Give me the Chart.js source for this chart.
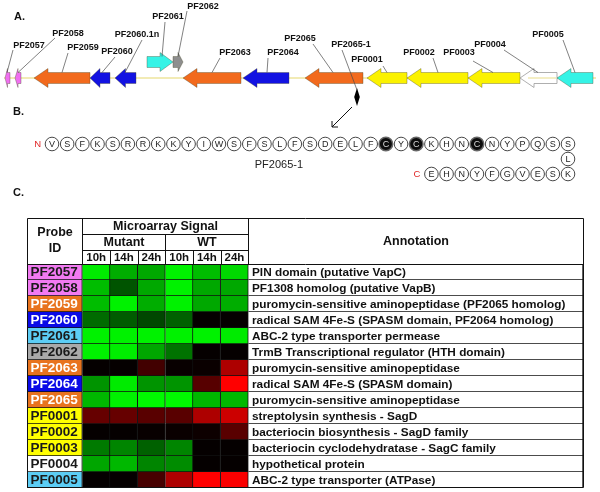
<!DOCTYPE html>
<html>
<head>
<meta charset="utf-8">
<script src="https://cdn.jsdelivr.net/npm/chart.js"></script>
<style>
  html, body { margin: 0; padding: 0; background: #fff; }
  #page { position: relative; width: 600px; height: 492px; overflow: hidden; }
  .panel { position: absolute; left: 0; width: 600px; }
  #panelA { top: 0; height: 135px; }
  #panelB { top: 100px; height: 90px; }
  #panelC { top: 185px; height: 307px; }
</style>
</head>
<body>
<div id="page">
  <div class="panel" id="panelA"><canvas id="geneMap"></canvas></div>
  <div class="panel" id="panelB"><canvas id="peptide"></canvas></div>
  <div class="panel" id="panelC"><canvas id="heatTable"></canvas></div>
</div>
<script>
// ---- A. gene neighbourhood (kb along the contig, strand -1 = leftward)
const geneNames  = ["PF2057", "PF2058", "PF2059", "PF2060", "PF2060.1n", "PF2061", "PF2062", "PF2063",
                    "PF2064", "PF2065", "PF0001", "PF0002", "PF0003", "PF0004", "PF0005"];
const geneStart  = [0.25, 0.75, 1.70, 4.50, 5.75, 7.35, 8.65, 9.15, 12.15, 15.25, 18.35, 20.35, 23.40, 26.00, 27.85];
const geneEnd    = [0.50, 1.05, 4.50, 5.50, 6.80, 8.65, 9.15, 12.05, 14.45, 18.15, 20.35, 23.40, 26.00, 27.85, 29.65];
const geneStrand = [-1, -1, -1, -1, -1, 1, 1, -1, -1, -1, -1, -1, -1, -1, -1];
const geneFamily = ["vap", "vap", "amino", "sam", "sam", "abc", "trmb", "amino", "sam", "amino", "sag", "sag", "sag", "hyp", "abc"];
const smallOrfName = "PF2065-1";
const smallOrfAt = 17.85;

// ---- B. PF2065-1 peptide
const peptideSeq = "VSFKSRRKKYIWSFSLFSDELFCYCKHNCNYPQSSLKSEVGFYNHE";
const modifiedResidues = [23, 25, 29];

// ---- C. microarray signal (negative = green, positive = red)
const probeIds = ["PF2057", "PF2058", "PF2059", "PF2060", "PF2061", "PF2062", "PF2063",
                  "PF2064", "PF2065", "PF0001", "PF0002", "PF0003", "PF0004", "PF0005"];
const annotations = [
  "PIN domain (putative VapC)",
  "PF1308 homolog (putative VapB)",
  "puromycin-sensitive aminopeptidase (PF2065 homolog)",
  "radical SAM 4Fe-S (SPASM domain, PF2064 homolog)",
  "ABC-2 type transporter permease",
  "TrmB Transcriptional regulator (HTH domain)",
  "puromycin-sensitive aminopeptidase",
  "radical SAM 4Fe-S (SPASM domain)",
  "puromycin-sensitive aminopeptidase",
  "streptolysin synthesis - SagD",
  "bacteriocin biosynthesis - SagD family",
  "bacteriocin cyclodehydratase - SagC family",
  "hypothetical protein",
  "ABC-2 type transporter (ATPase)"
];
const strains = ["Mutant", "WT"];
const timePoints = ["10h", "14h", "24h"];
const mutant10h = [-0.92, -0.74, -0.74, -0.42, -0.95, -0.95, 0.02, -0.58, -0.72, 0.40, 0.02, -0.48, -0.65, 0.02];
const mutant14h = [-0.68, -0.33, -0.95, -0.36, -0.95, -0.93, 0.02, -0.92, -0.95, 0.40, 0.02, -0.52, -0.72, 0.02];
const mutant24h = [-0.66, -0.66, -0.68, -0.28, -0.95, -0.65, 0.26, -0.58, -0.98, 0.35, 0.03, -0.38, -0.52, 0.28];
const wt10h     = [-0.95, -0.95, -0.95, -0.38, -0.95, -0.45, 0.03, -0.58, -0.98, 0.35, 0.04, -0.52, -0.55, 0.68];
const wt14h     = [-0.74, -0.66, -0.66, 0.02, -0.95, 0.02, 0.04, 0.34, -0.72, 0.68, 0.05, 0.02, 0.02, 1.00];
const wt24h     = [-0.85, -0.66, -0.68, 0.02, -0.92, 0.02, 0.68, 1.00, -0.72, 0.80, 0.35, 0.02, 0.02, 0.98];

// ---- styles
const FONT = '"Liberation Sans", Arial, sans-serif';
const arrowColors = { vap: "#f070f0", amino: "#f26a1d", sam: "#1212e2", abc: "#35f3e6", trmb: "#8e8e8e", sag: "#fbf200", hyp: "#ffffff" };
const probeColors = { vap: "#f27af2", amino: "#e8731e", sam: "#0a0ae6", abc: "#5ccdf5", trmb: "#a9a9a9", sag: "#ffff00", hyp: "#ffffff" };
const probeTextColors = { amino: "#ffffff", sam: "#ffffff" };

// label layout: [gene, text x, text y, leader start x, leader start y, leader end (kb)]
const mapLabels = [
  ["PF2057", 29, 46, 13, 50, 0.35],
  ["PF2058", 68, 34, 55, 38, 0.90],
  ["PF2059", 83, 48, 68, 53, 3.10],
  ["PF2060", 117, 52, 115, 57, 5.10],
  ["PF2060.1n", 137, 35, 142, 40, 6.25],
  ["PF2061", 168, 17, 165, 22, 8.10],
  ["PF2062", 203, 7, 187, 11, 8.90],
  ["PF2063", 235, 53, 220, 58, 10.60],
  ["PF2064", 283, 53, 268, 58, 13.35],
  ["PF2065", 300, 39, 313, 44, 16.65],
  ["PF2065-1", 351, 45, 342, 50, 17.85],
  ["PF0001", 367, 60, 383, 66, 19.35],
  ["PF0002", 419, 53, 433, 58, 21.90],
  ["PF0003", 459, 53, 473, 61, 24.65],
  ["PF0004", 490, 45, 504, 50, 26.90],
  ["PF0005", 548, 35, 563, 40, 28.75]
];

Chart.defaults.font.family = FONT;

function familyOf(id) {
  return geneFamily[geneNames.indexOf(id)];
}

function heatColor(v) {
  const k = Math.round(Math.min(1, Math.abs(v)) * 255);
  return v < 0 ? `rgb(0,${k},0)` : `rgb(${k},0,0)`;
}

function arrowPath(ctx, xa, xb, yc, strand) {
  const len = xb - xa;
  const head = Math.min(14, len * 0.5);
  const bh = 5.5, hh = 9.5;
  ctx.beginPath();
  if (strand < 0) {
    ctx.moveTo(xa, yc);
    ctx.lineTo(xa + head, yc - hh);
    ctx.lineTo(xa + head, yc - bh);
    ctx.lineTo(xb, yc - bh);
    ctx.lineTo(xb, yc + bh);
    ctx.lineTo(xa + head, yc + bh);
    ctx.lineTo(xa + head, yc + hh);
  } else {
    ctx.moveTo(xb, yc);
    ctx.lineTo(xb - head, yc - hh);
    ctx.lineTo(xb - head, yc - bh);
    ctx.lineTo(xa, yc - bh);
    ctx.lineTo(xa, yc + bh);
    ctx.lineTo(xb - head, yc + bh);
    ctx.lineTo(xb - head, yc + hh);
  }
  ctx.closePath();
}

// ================= A. gene map =================
const geneMapPlugin = {
  id: "geneMapDraw",
  afterDraw(chart) {
    const { ctx, scales: { x, y } } = chart;
    const lane = s => y.getPixelForValue(s > 0 ? 1 : 0);
    ctx.save();

    ctx.fillStyle = "#111";
    ctx.font = "bold 11px " + FONT;
    ctx.textBaseline = "middle";
    ctx.fillText("A.", 14, 17);

    // contig line
    ctx.strokeStyle = "#f2ebb5";
    ctx.lineWidth = 2;
    ctx.beginPath();
    ctx.moveTo(x.getPixelForValue(0.2), lane(-1));
    ctx.lineTo(x.getPixelForValue(29.8), lane(-1));
    ctx.stroke();

    geneNames.forEach((name, i) => {
      const yc = lane(geneStrand[i]);
      arrowPath(ctx, x.getPixelForValue(geneStart[i]), x.getPixelForValue(geneEnd[i]), yc, geneStrand[i]);
      ctx.fillStyle = arrowColors[geneFamily[i]];
      ctx.fill();
      ctx.strokeStyle = geneFamily[i] === "hyp" ? "#9a9a9a" : "rgba(70,70,40,0.45)";
      ctx.lineWidth = 0.8;
      ctx.stroke();
      if (geneFamily[i] === "hyp") {
        // the contig line shows through the unfilled ORF
        ctx.strokeStyle = "#f4eec4";
        ctx.lineWidth = 2;
        ctx.beginPath();
        ctx.moveTo(x.getPixelForValue(geneStart[i]) + 8, yc);
        ctx.lineTo(x.getPixelForValue(geneEnd[i]) - 1, yc);
        ctx.stroke();
      }
    });

    // small ORF below the line
    const ox = x.getPixelForValue(smallOrfAt);
    const oy = lane(-1) + 19;
    ctx.fillStyle = "#000";
    ctx.beginPath();
    ctx.moveTo(ox, oy - 9);
    ctx.lineTo(ox + 2.8, oy);
    ctx.lineTo(ox, oy + 9);
    ctx.lineTo(ox - 2.8, oy);
    ctx.closePath();
    ctx.fill();

    // pointer to the peptide
    ctx.strokeStyle = "#111";
    ctx.lineWidth = 1;
    ctx.beginPath();
    ctx.moveTo(ox - 5, oy + 10);
    ctx.lineTo(ox - 25, oy + 30);
    ctx.moveTo(ox - 25, oy + 30);
    ctx.lineTo(ox - 25, oy + 24);
    ctx.moveTo(ox - 25, oy + 30);
    ctx.lineTo(ox - 19, oy + 30);
    ctx.stroke();

    // labels and leader lines
    ctx.font = "bold 9px " + FONT;
    ctx.textAlign = "center";
    mapLabels.forEach(([name, tx, ty, lx, ly, at]) => {
      let endY;
      if (name === smallOrfName) {
        endY = oy - 7;
      } else {
        const gi = geneNames.indexOf(name);
        endY = lane(geneStrand[gi]) - 5.5;
      }
      ctx.strokeStyle = "#4a4a4a";
      ctx.lineWidth = 0.7;
      ctx.beginPath();
      ctx.moveTo(lx, ly);
      ctx.lineTo(x.getPixelForValue(at), endY);
      ctx.stroke();
      ctx.fillStyle = "#111";
      ctx.fillText(name, tx, ty);
    });
    ctx.restore();
  }
};

new Chart("geneMap", {
  type: "scatter",
  data: { datasets: [] },
  options: {
    animation: false,
    responsive: true,
    maintainAspectRatio: false,
    events: [],
    layout: { padding: { left: 0, right: 0, top: 62, bottom: 57 } },
    scales: {
      x: { type: "linear", min: 0, max: 30, display: false },
      y: { type: "linear", min: 0, max: 1, display: false }
    },
    plugins: { legend: { display: false }, tooltip: { enabled: false } }
  },
  plugins: [geneMapPlugin]
});

// ================= B. peptide =================
const turnAt = 35;
const residues = peptideSeq.split("").map((aa, i) => {
  let col, row;
  if (i < turnAt) { col = i; row = 0; }
  else if (i === turnAt) { col = turnAt - 1; row = 1; }
  else { col = turnAt - 1 - (i - turnAt - 1); row = 2; }
  return { x: col, y: row, aa: aa, mod: modifiedResidues.includes(i + 1) };
});

const peptidePlugin = {
  id: "peptideLetters",
  afterDatasetsDraw(chart) {
    const { ctx, scales: { x, y } } = chart;
    const meta = chart.getDatasetMeta(0);
    ctx.save();
    ctx.fillStyle = "#111";
    ctx.font = "bold 11px " + FONT;
    ctx.textBaseline = "middle";
    ctx.fillText("B.", 13, 12);

    ctx.font = "9px " + FONT;
    ctx.textAlign = "center";
    meta.data.forEach((pt, i) => {
      ctx.fillStyle = residues[i].mod ? "#d8d8d8" : "#222";
      ctx.fillText(residues[i].aa, pt.x, pt.y + 0.5);
    });
    const last = residues[residues.length - 1];
    ctx.fillStyle = "#e02828";
    ctx.font = "9.5px " + FONT;
    ctx.fillText("N", x.getPixelForValue(-0.95), y.getPixelForValue(0) + 0.5);
    ctx.fillText("C", x.getPixelForValue(last.x - 0.95), y.getPixelForValue(last.y) + 0.5);
    ctx.fillStyle = "#222";
    ctx.font = "11px " + FONT;
    ctx.fillText(smallOrfName, x.getPixelForValue(14.95), y.getPixelForValue(1.4));
    ctx.restore();
  }
};

new Chart("peptide", {
  type: "scatter",
  data: {
    datasets: [{
      data: residues,
      clip: false,
      pointRadius: 6.8,
      pointBorderWidth: ctx => (ctx.raw && ctx.raw.mod ? 1.5 : 0.9),
      pointBorderColor: ctx => (ctx.raw && ctx.raw.mod ? "#666" : "#333"),
      pointBackgroundColor: ctx => (ctx.raw && ctx.raw.mod ? "#0d0d0d" : "#ffffff")
    }]
  },
  options: {
    animation: false,
    responsive: true,
    maintainAspectRatio: false,
    events: [],
    layout: { padding: { left: 52, right: 32, top: 44, bottom: 16 } },
    scales: {
      x: { type: "linear", min: 0, max: turnAt - 1, display: false },
      y: { type: "linear", min: 0, max: 2, reverse: true, display: false }
    },
    plugins: { legend: { display: false }, tooltip: { enabled: false } }
  },
  plugins: [peptidePlugin]
});

// ================= C. heat-map table =================
const signalColumns = [mutant10h, mutant14h, mutant24h, wt10h, wt14h, wt24h];
const probeCol = [-2, 0];
const annotCol = [signalColumns.length, 18.1];

const tableDatasets = [{
  label: "probe",
  data: probeIds.map(id => ({ x: probeCol, y: id })),
  backgroundColor: probeIds.map(id => probeColors[familyOf(id)])
}];
signalColumns.forEach((col, c) => {
  tableDatasets.push({
    label: strains[Math.floor(c / 3)] + " " + timePoints[c % 3],
    data: col.map((v, i) => ({ x: [c, c + 1], y: probeIds[i], v: v })),
    backgroundColor: ctx => heatColor(ctx.raw ? ctx.raw.v : 0)
  });
});
tableDatasets.push({
  label: "annotation",
  data: probeIds.map(id => ({ x: annotCol, y: id })),
  backgroundColor: "#ffffff"
});

const tablePlugin = {
  id: "tableText",
  afterDatasetsDraw(chart) {
    const { ctx, chartArea: area, scales: { x, y } } = chart;
    const px = v => Math.round(x.getPixelForValue(v)) + 0.5;
    const top = area.top;
    const hTop = top - 46;
    const left = px(probeCol[0]);
    const right = px(annotCol[1]);
    const d0 = px(0), d6 = px(signalColumns.length), mid = px(3);
    ctx.save();

    ctx.fillStyle = "#111";
    ctx.font = "bold 11px " + FONT;
    ctx.textBaseline = "middle";
    ctx.fillText("C.", 13, 8);

    // frame and header grid
    ctx.strokeStyle = "#111";
    ctx.lineWidth = 1;
    ctx.beginPath();
    ctx.rect(left, hTop + 0.5, right - left, area.bottom - hTop - 1);
    ctx.moveTo(d0, hTop); ctx.lineTo(d0, top);
    ctx.moveTo(d6, hTop); ctx.lineTo(d6, top);
    ctx.moveTo(d0, hTop + 16.5); ctx.lineTo(d6, hTop + 16.5);
    ctx.moveTo(d0, hTop + 32.5); ctx.lineTo(d6, hTop + 32.5);
    ctx.moveTo(mid, hTop + 16); ctx.lineTo(mid, top);
    for (let c = 1; c < signalColumns.length; c++) {
      ctx.moveTo(px(c), hTop + 32); ctx.lineTo(px(c), top);
    }
    ctx.moveTo(left, top + 0.5); ctx.lineTo(right, top + 0.5);
    ctx.stroke();

    // header text
    ctx.fillStyle = "#111";
    ctx.textAlign = "center";
    ctx.font = "bold 12.5px " + FONT;
    const probeMid = (left + d0) / 2;
    ctx.fillText("Probe", probeMid, hTop + 15);
    ctx.fillText("ID", probeMid, hTop + 31);
    ctx.fillText("Microarray Signal", (d0 + d6) / 2, hTop + 8.5);
    ctx.fillText(strains[0], (d0 + mid) / 2, hTop + 24.5);
    ctx.fillText(strains[1], (mid + d6) / 2, hTop + 24.5);
    ctx.fillText("Annotation", (d6 + right) / 2, hTop + 23.5);
    ctx.font = "bold 11.5px " + FONT;
    for (let c = 0; c < signalColumns.length; c++) {
      ctx.fillText(timePoints[c % 3], x.getPixelForValue(c + 0.5), hTop + 39.5);
    }

    // row text
    ctx.textAlign = "left";
    probeIds.forEach((id, i) => {
      const yc = y.getPixelForValue(i) + 0.5;
      ctx.font = "bold 13.5px " + FONT;
      ctx.fillStyle = probeTextColors[familyOf(id)] || "#1a1a1a";
      ctx.fillText(id, left + 3, yc);
      ctx.font = "bold 11.8px " + FONT;
      ctx.fillStyle = "#111";
      ctx.fillText(annotations[i], d6 + 3.5, yc);
    });
    ctx.restore();
  }
};

new Chart("heatTable", {
  type: "bar",
  data: { labels: probeIds, datasets: tableDatasets },
  options: {
    indexAxis: "y",
    animation: false,
    responsive: true,
    maintainAspectRatio: false,
    events: [],
    layout: { padding: { left: 27, right: 17, top: 79, bottom: 4 } },
    datasets: {
      bar: {
        grouped: false,
        barPercentage: 1,
        categoryPercentage: 1,
        borderSkipped: false,
        borderColor: "#111",
        borderWidth: { top: 0, left: 0, right: 1, bottom: 1 }
      }
    },
    scales: {
      x: { type: "linear", min: -2, max: 18.1, display: false },
      y: { type: "category", display: false }
    },
    plugins: { legend: { display: false }, tooltip: { enabled: false } }
  },
  plugins: [tablePlugin]
});
</script>
</body>
</html>
